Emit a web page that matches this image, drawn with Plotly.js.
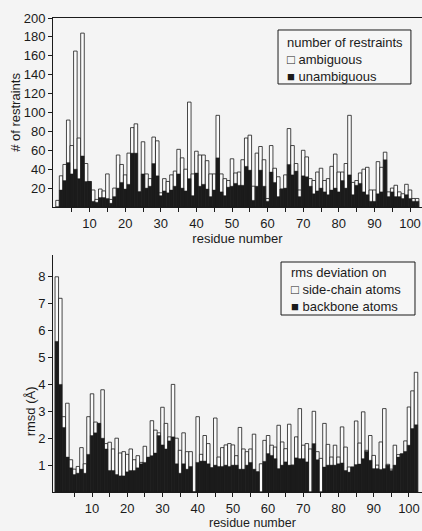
<!DOCTYPE html>
<html>
<head>
<meta charset="utf-8">
<script src="https://cdn.plot.ly/plotly-3.0.1.min.js"></script>
<style>
html,body{margin:0;padding:0;background:#f4f4f4;}
#chart{width:422px;height:531px;}
</style>
</head>
<body>
<div id="chart"></div>
<script>
// ---- Top panel: number of restraints per residue ----
const residueTop = [1,2,3,4,5,6,7,8,9,10,11,12,13,14,15,16,17,18,19,20,
  21,22,23,24,25,26,27,28,29,30,31,32,33,34,35,36,37,38,39,40,
  41,42,43,44,45,46,47,48,49,50,51,52,53,54,55,56,57,58,59,60,
  61,62,63,64,65,66,67,68,69,70,71,72,73,74,75,76,77,78,79,80,
  81,82,83,84,85,86,87,88,89,90,91,92,93,94,95,96,97,98,99,100,101,102];
const ambiguous = [7,33,45,92,65,165,73,184,46,27,18,8,19,17,35,8,20,55,45,34,
  57,84,88,16,69,35,30,74,70,15,30,27,34,38,61,52,40,111,35,59,
  55,55,49,35,35,97,35,30,28,51,36,37,50,73,76,22,57,64,50,9,
  65,41,32,19,34,83,65,46,18,60,53,30,28,37,41,28,30,43,56,37,
  37,46,97,26,28,36,40,42,18,18,48,42,58,16,20,23,16,14,24,18,9,9];
const unambiguous = [0,18,28,47,35,40,30,54,27,27,6,5,10,10,9,4,11,20,26,19,
  24,57,57,16,35,20,22,46,33,12,17,15,18,22,35,20,17,30,12,36,
  22,24,19,11,18,52,16,12,21,22,25,23,23,43,39,7,22,39,22,6,
  37,26,11,19,20,45,34,38,11,33,32,22,14,17,20,16,13,18,20,16,
  28,20,34,13,23,25,16,13,6,6,14,16,50,11,16,11,11,9,13,9,6,6];

// ---- Bottom panel: rms deviation per residue ----
const residueRms = [0,1,2,3,4,5,6,7,8,9,10,11,12,13,14,15,16,17,18,19,20,
  21,22,23,24,25,26,27,28,29,30,31,32,33,34,35,36,37,38,39,40,
  41,42,43,44,45,46,47,48,49,50,51,52,53,54,55,56,57,58,59,60,
  61,62,63,64,65,66,67,68,69,70,71,72,73,74,75,76,77,78,79,80,
  81,82,83,84,85,86,87,88,89,90,91,92,93,94,95,96,97,98,99,100,101,102];
const sideChain = [8.0,7.2,2.8,3.3,1.2,0.85,0.95,1.65,1.05,2.8,3.65,2.6,2.55,3.8,1.8,1.85,1.6,2.0,1.45,1.5,
  1.4,1.6,1.2,1.35,1.1,1.7,1.25,2.65,2.3,2.2,3.15,2.55,2.05,4.0,2.0,1.55,2.2,1.5,1.5,0,
  2.8,1.4,2.1,1.8,0.9,2.75,1.3,1.65,1.75,1.8,1.75,1.35,2.4,1.6,1.5,1.6,2.15,0.75,1.05,1.92,
  2.1,1.74,1.67,2.48,1.86,1.61,2.52,1.0,2.05,3.1,1.74,1.8,1.6,3.0,1.5,1.25,2.55,1.77,1.3,1.74,
  1.3,2.42,1.67,0.93,0.93,2.64,1.82,2.98,1.55,2.1,1.36,1.0,1.86,3.1,1.03,0.85,1.74,1.39,1.4,1.9,
  3.16,3.76,4.45];
const backbone = [5.6,4.0,2.4,1.3,0.9,0.65,0.7,0.85,0.7,1.4,2.1,2.2,2.55,2.0,1.6,0.8,0.8,0.65,0.6,0.6,
  0.75,0.8,0.8,0.9,1.05,1.1,1.3,1.35,1.45,2.1,1.75,1.6,1.9,2.05,1.05,0.7,1.05,0.85,0.95,0,
  1.1,1.15,1.15,1.05,0.9,1.0,0.95,0.95,1.0,0.95,1.0,1.0,0.85,0.85,1.0,1.1,0.85,0.75,0,1.14,
  1.43,1.36,1.24,0.87,1.0,1.12,1.0,1.0,1.27,1.24,1.24,1.12,0,1.8,1.2,0,0.93,1.0,1.0,1.0,
  1.05,1.08,0.8,0.74,0.93,1.02,1.04,1.24,1.51,1.18,0.87,0.87,0.84,0.87,1.0,0.8,1.0,1.3,1.43,1.51,
  1.74,2.36,2.5];

// ---- Axis ticks and legend texts ----
const xTickVals = [5,10,15,20,25,30,35,40,45,50,55,60,65,70,75,80,85,90,95,100];
const xTickText = ['','10','','20','','30','','40','','50','','60','','70','','80','','90','','100'];
const restraintTicks = [20,40,60,80,100,120,140,160,180,200];
const rmsdTicks = [1,2,3,4,5,6,7,8];
const topLegendTitle = 'number of restraints';
const topNames = ['ambiguous', 'unambiguous'];
const bottomLegendTitle = 'rms deviation on';
const bottomNames = ['side-chain atoms', 'backbone atoms'];

const ink = '#1b1b1b';
const bg = '#f4f4f4';
const fam = 'Liberation Sans, Arial, Helvetica, sans-serif';
const f13 = {family:fam, size:13, color:ink};

const traces = [
  {type:'bar', x:residueTop, y:ambiguous, name:topNames[0], xaxis:'x', yaxis:'y',
   marker:{color:'#fbfbfb', line:{color:ink, width:0.8}}},
  {type:'bar', x:residueTop, y:unambiguous, name:topNames[1], xaxis:'x', yaxis:'y',
   marker:{color:ink, line:{color:ink, width:0.4}}},
  {type:'bar', x:residueRms, y:sideChain, name:bottomNames[0], xaxis:'x2', yaxis:'y2',
   marker:{color:'#fbfbfb', line:{color:ink, width:0.8}}},
  {type:'bar', x:residueRms, y:backbone, name:bottomNames[1], xaxis:'x2', yaxis:'y2',
   marker:{color:ink, line:{color:ink, width:0.4}}}
];

const axisCommon = {
  showline:true, linecolor:ink, linewidth:1, showgrid:false, zeroline:false,
  ticks:'outside', ticklen:4, tickwidth:1, tickcolor:ink, tickfont:f13
};

const layout = {
  width:422, height:531,
  margin:{l:53, r:0, t:18, b:39},
  paper_bgcolor:bg, plot_bgcolor:bg,
  font:f13,
  barmode:'overlay', bargap:0,
  showlegend:false,
  xaxis:Object.assign({}, axisCommon, {domain:[0,1], anchor:'y', range:[-0.28,103.37],
    tickvals:xTickVals, ticktext:xTickText, mirror:true,
    title:{text:'residue number', font:f13, standoff:0}}),
  yaxis:Object.assign({}, axisCommon, {domain:[0.6013,1], anchor:'x', range:[0,200],
    tickvals:restraintTicks,
    title:{text:'# of restraints', font:f13, standoff:0}}),
  xaxis2:Object.assign({}, axisCommon, {domain:[0,1], anchor:'y2', range:[-1.08,103.7],
    tickvals:xTickVals, ticktext:xTickText}),
  yaxis2:Object.assign({}, axisCommon, {domain:[0,0.5], anchor:'x2', range:[0,8.81],
    tickvals:rmsdTicks}),
  shapes:[
    {type:'rect', xref:'paper', yref:'paper', x0:0.6098, x1:0.970, y0:0.8608, y1:0.9747,
     line:{color:ink, width:1}, fillcolor:'#f6f6f6', layer:'above'},
    {type:'rect', xref:'paper', yref:'paper', x0:0.618, x1:0.981, y0:0.3734, y1:0.4852,
     line:{color:ink, width:1}, fillcolor:'#f6f6f6', layer:'above'}
  ],
  annotations:[
    {text:topLegendTitle + '<br>\u25A1 ' + topNames[0] + '<br>\u25A0 ' + topNames[1],
     xref:'paper', yref:'paper', x:0.628, y:0.9694, xanchor:'left', yanchor:'top',
     align:'left', showarrow:false, font:f13},
    {text:bottomLegendTitle + '<br>\u25A1 ' + bottomNames[0] + '<br>\u25A0 ' + bottomNames[1],
     xref:'paper', yref:'paper', x:0.640, y:0.4821, xanchor:'left', yanchor:'top',
     align:'left', showarrow:false, font:f13},
    {text:'rmsd (Å)', textangle:-90, xref:'paper', yref:'y2', x:-0.0623, y:3.0,
     xanchor:'center', yanchor:'middle', showarrow:false, font:f13},
    {text:'residue number', xref:'paper', yref:'paper', x:0.542, y:-0.0654,
     xanchor:'center', yanchor:'middle', showarrow:false,
     font:{family:fam, size:12.5, color:ink}}
  ]
};

Plotly.newPlot('chart', traces, layout, {staticPlot:true, displayModeBar:false});
</script>
</body>
</html>
